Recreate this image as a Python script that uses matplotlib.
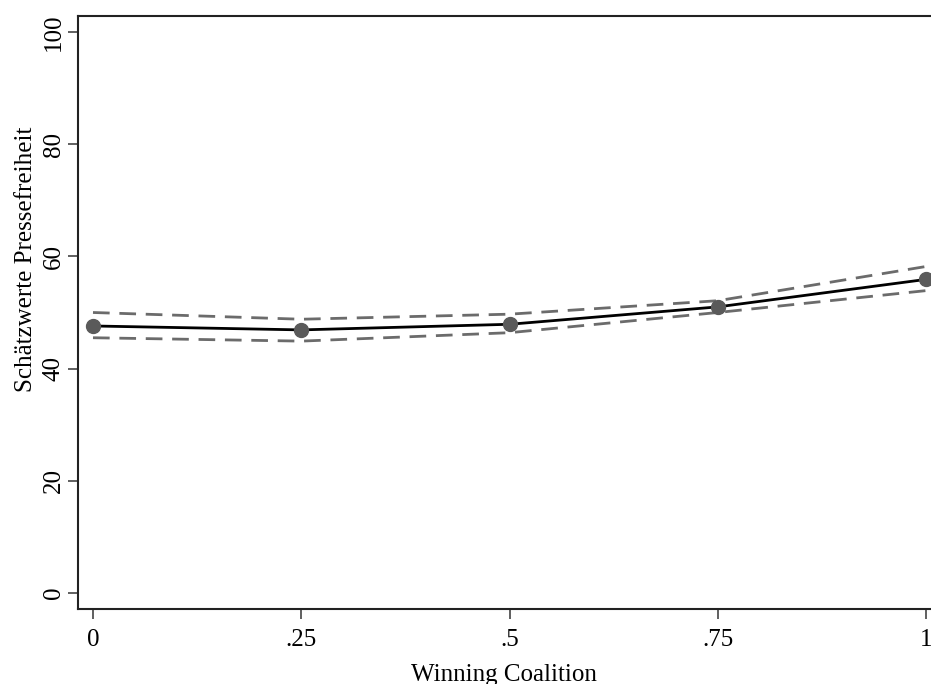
import matplotlib
matplotlib.use("Agg")
import matplotlib.pyplot as plt

x = [0, 0.25, 0.5, 0.75, 1.0]
est = [47.6, 46.9, 47.9, 51.0, 55.9]
upper = [50.0, 48.8, 49.7, 52.1, 58.2]
lower = [45.5, 44.9, 46.4, 50.0, 53.9]
xticks = [0, 0.25, 0.5, 0.75, 1.0]
xticklabels = ["0", ".25", ".5", ".75", "1"]
yticks = [0, 20, 40, 60, 80, 100]
yticklabels = ["0", "20", "40", "60", "80", "100"]

plt.rcParams['font.family'] = ['Liberation Serif', 'DejaVu Serif']

fig = plt.figure(figsize=(9.31, 6.84), dpi=100)
ax = fig.add_axes([78/931, 75/684, 863/931, 593/684])

ax.plot(x, upper, color="#6b6b6b", lw=2, ls=(0, (6, 3.5)), zorder=2)
ax.plot(x, lower, color="#6b6b6b", lw=2, ls=(0, (6, 3.5)), zorder=2)
ax.plot(x, est, color="black", lw=2, zorder=3)
ax.plot(x, est, ls="none", marker="o", ms=10, color="#5a5a5a", zorder=4)

ax.set_xlim(-0.018, 1.018)
ax.set_ylim(-2.85, 102.85)
ax.set_xticks(xticks)
ax.set_xticklabels(xticklabels)
ax.set_yticks(yticks)
ax.set_yticklabels(yticklabels, rotation=90, va="center")

for s in ax.spines.values():
    s.set_linewidth(1.5)
    s.set_color("#222222")
ax.tick_params(direction="out", length=7.2, width=1.2, color="#444444",
               labelsize=18)
ax.tick_params(axis="x", pad=7)
ax.tick_params(axis="y", pad=2.5)

ax.set_xlabel("Winning Coalition", fontsize=18)
ax.set_ylabel("Schätzwerte Pressefreiheit", fontsize=18)
ax.xaxis.set_label_coords(0.493, -0.092)
ax.yaxis.set_label_coords(-0.048, 0.59)

fig.savefig("out.png", dpi=100)
